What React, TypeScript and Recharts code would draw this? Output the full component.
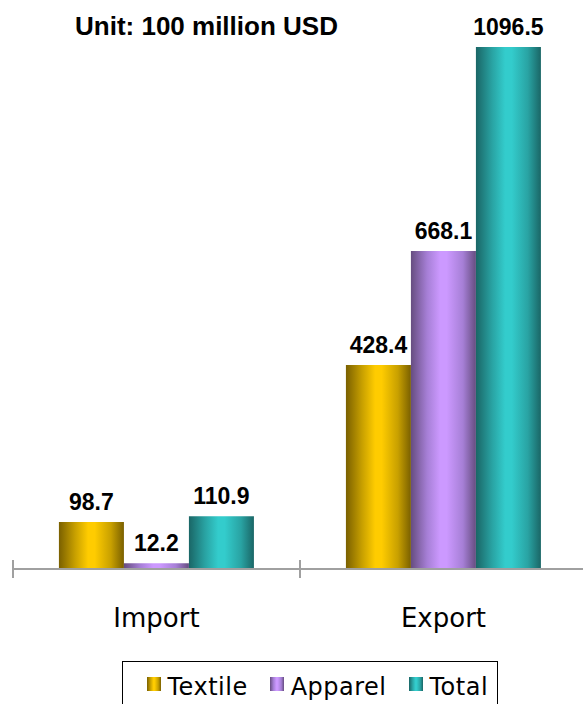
import React from 'react';
import { BarChart, Bar, XAxis, YAxis, LabelList } from 'recharts';

const categories = ['Import', 'Export'];
const seriesNames = ['Textile', 'Apparel', 'Total'];
const textileValues = [98.7, 428.4];
const apparelValues = [12.2, 668.1];
const totalValues = [110.9, 1096.5];

const data = categories.map((name, i) => ({
  name,
  Textile: textileValues[i],
  Apparel: apparelValues[i],
  Total: totalValues[i],
}));

// dark edge, mid, bright centre
const SHADES = {
  Textile: ['#7a6000', '#c8a000', '#ffcc00'],
  Apparel: ['#664d80', '#a67fd6', '#cc99ff'],
  Total: ['#1a6666', '#29a3a3', '#33cccc'],
};

const CHART_W = 590;
const MARGIN = { top: 47, right: 3, left: 13, bottom: 55 };
const HALF_BAND = (CHART_W - MARGIN.left - MARGIN.right) / categories.length / 2;

const CategoryTick = (props) => {
  const { x, y, payload, index } = props;
  const last = index === categories.length - 1;
  return (
    <g>
      <line x1={x - HALF_BAND} x2={x - HALF_BAND} y1={y - 9} y2={y + 9} stroke="#a0a0a0" strokeWidth={2} />
      {last && <line x1={x + HALF_BAND} x2={x + HALF_BAND} y1={y - 9} y2={y + 9} stroke="#a0a0a0" strokeWidth={2} />}
      <text x={x} y={y + 58} textAnchor="middle" fontFamily="DejaVu Sans" fontSize={26} fill="#000">
        {payload.value}
      </text>
    </g>
  );
};

const gradientCss = (c) =>
  `linear-gradient(to right, ${c[0]} 0%, ${c[1]} 25%, ${c[2]} 45%, ${c[2]} 55%, ${c[1]} 80%, ${c[0]} 100%)`;

export default function App() {
  return (
    <div style={{ position: 'relative', width: 583, height: 704, overflow: 'hidden', background: '#fff' }}>
      <style>{`body{margin:0}`}</style>
      <div
        style={{
          position: 'absolute', left: 75, top: 11, fontFamily: 'Liberation Sans, Arial',
          fontWeight: 'bold', fontSize: 26, lineHeight: 'normal', color: '#000', whiteSpace: 'nowrap',
        }}
      >
        Unit: 100 million USD
      </div>
      <BarChart width={CHART_W} height={704} data={data} margin={MARGIN} barCategoryGap="16%" barGap={0}>
        <defs>
          {seriesNames.map((s) => (
            <linearGradient key={s} id={`grad-${s}`} x1="0" y1="0" x2="1" y2="0">
              <stop offset="0%" stopColor={SHADES[s][0]} />
              <stop offset="25%" stopColor={SHADES[s][1]} />
              <stop offset="45%" stopColor={SHADES[s][2]} />
              <stop offset="55%" stopColor={SHADES[s][2]} />
              <stop offset="80%" stopColor={SHADES[s][1]} />
              <stop offset="100%" stopColor={SHADES[s][0]} />
            </linearGradient>
          ))}
        </defs>
        <XAxis
          dataKey="name"
          height={80}
          axisLine={{ stroke: '#a0a0a0', strokeWidth: 2 }}
          tickLine={false}
          tickSize={0}
          tickMargin={0}
          tick={<CategoryTick />}
          interval={0}
        />
        <YAxis hide domain={[0, Math.max(...totalValues)]} />
        {seriesNames.map((s) => (
          <Bar key={s} dataKey={s} fill={`url(#grad-${s})`} isAnimationActive={false}>
            <LabelList
              dataKey={s}
              position="top"
              offset={12}
              style={{ fontFamily: 'Liberation Sans, Arial', fontWeight: 'bold', fontSize: 23, fill: '#000' }}
            />
          </Bar>
        ))}
      </BarChart>
      <div
        style={{
          position: 'absolute', left: 122, top: 661, width: 376, height: 60,
          border: '1.5px solid #000', boxSizing: 'border-box',
          fontFamily: 'DejaVu Sans', fontSize: 24, lineHeight: '28px', letterSpacing: 0.5, color: '#000',
          display: 'flex', alignItems: 'flex-start', paddingLeft: 23.5, paddingTop: 11,
        }}
      >
        {seriesNames.map((s) => (
          <div key={s} style={{ display: 'flex', alignItems: 'flex-start', marginRight: 22 }}>
            <span
              style={{
                display: 'inline-block', width: 14, height: 14, marginTop: 4, marginRight: 7,
                background: gradientCss(SHADES[s]),
              }}
            />
            <span>{s}</span>
          </div>
        ))}
      </div>
    </div>
  );
}
